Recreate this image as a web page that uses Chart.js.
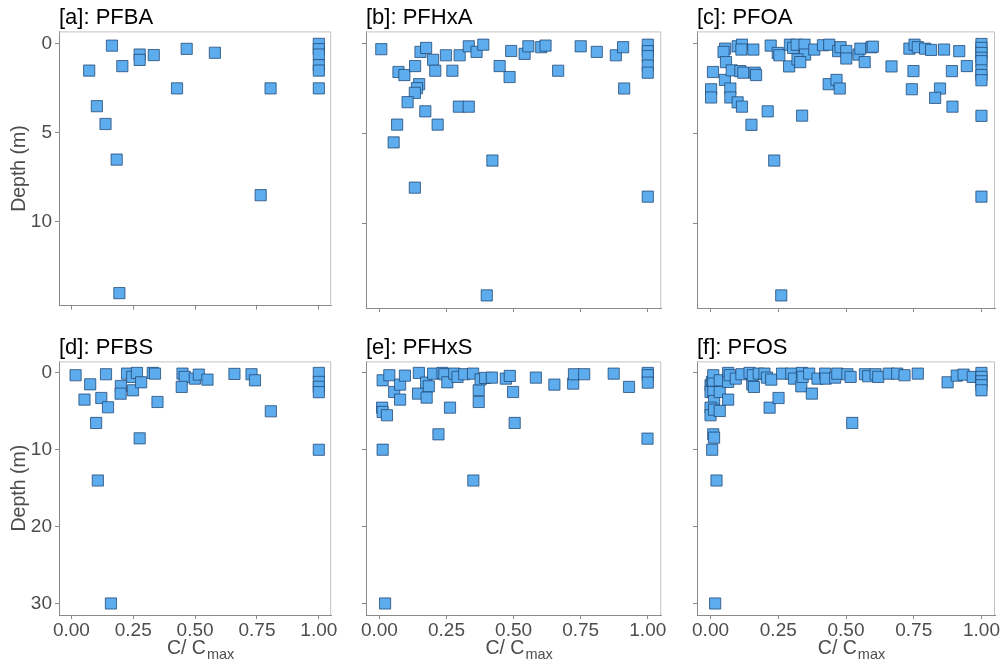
<!DOCTYPE html>
<html>
<head>
<meta charset="utf-8">
<script src="https://cdn.jsdelivr.net/npm/chart.js@4"></script>
<style>
  html, body { margin: 0; padding: 0; background: #ffffff; }
  body { width: 1004px; height: 662px; position: relative; overflow: hidden; }
  canvas { position: absolute; }
</style>
</head>
<body>
<canvas id="pa" width="340" height="320" style="left:0px;top:0px"></canvas>
<canvas id="pb" width="320" height="320" style="left:350px;top:0px"></canvas>
<canvas id="pc" width="324" height="320" style="left:680px;top:0px"></canvas>
<canvas id="pd" width="340" height="332" style="left:0px;top:330px"></canvas>
<canvas id="pe" width="320" height="332" style="left:350px;top:330px"></canvas>
<canvas id="pf" width="324" height="332" style="left:680px;top:330px"></canvas>
<script>
// ---- tick labels ----
const xTickValues = [0, 0.25, 0.5, 0.75, 1];
const yTicksTop = [0, 5, 10];
const yTicksBottom = [0, 10, 20, 30];

// ---- panel titles ----
const panelTitles = ['[a]: PFBA', '[b]: PFHxA', '[c]: PFOA', '[d]: PFBS', '[e]: PFHxS', '[f]: PFOS'];

// ---- [a] PFBA ----
const pfbaC = [0.164, 0.072, 0.206, 0.276, 0.276, 0.333, 0.466, 0.58, 0.427, 0.805, 0.103, 0.138, 0.183, 0.765, 0.194, 1, 1, 1, 1, 1, 1];
const pfbaDepth = [0.1, 1.5, 1.25, 0.6, 0.9, 0.63, 0.28, 0.5, 2.5, 2.5, 3.5, 4.5, 6.5, 8.5, 14, 0, 0.3, 0.6, 1.2, 1.5, 2.5];

// ---- [b] PFHxA ----
const pfhxaC = [0.007, 0.071, 0.093, 0.133, 0.153, 0.174, 0.2, 0.208, 0.148, 0.14, 0.132, 0.105, 0.171, 0.066, 0.217, 0.053, 0.132, 0.248, 0.272, 0.299, 0.333, 0.362, 0.387, 0.296, 0.333, 0.421, 0.448, 0.485, 0.491, 0.541, 0.555, 0.603, 0.619, 0.666, 0.75, 0.81, 0.881, 0.908, 0.912, 0.4, 1, 1, 1, 1, 1, 1];
const pfhxaDepth = [0.29, 1.56, 1.73, 1.23, 0.44, 0.22, 0.88, 1.49, 2.24, 2.46, 2.72, 3.24, 3.75, 4.49, 4.49, 5.48, 8.0, 0.63, 1.49, 0.63, 0.13, 0.44, 0.04, 3.49, 3.49, 6.49, 1.23, 1.84, 0.39, 0.55, 0.13, 0.18, 0.09, 1.49, 0.13, 0.44, 0.63, 0.18, 2.48, 14, 0.04, 0.4, 0.68, 1.2, 1.6, 8.5];

// ---- [c] PFOA ----
const pfoaC = [0.002, 0.002, 0.009, 0.054, 0.048, 0.057, 0.053, 0.073, 0.073, 0.078, 0.1, 0.116, 0.1, 0.116, 0.114, 0.11, 0.121, 0.158, 0.163, 0.168, 0.151, 0.222, 0.211, 0.235, 0.248, 0.254, 0.29, 0.293, 0.305, 0.318, 0.347, 0.349, 0.321, 0.331, 0.338, 0.383, 0.415, 0.438, 0.436, 0.465, 0.477, 0.471, 0.48, 0.501, 0.501, 0.546, 0.553, 0.569, 0.594, 0.599, 0.668, 0.734, 0.753, 0.765, 0.792, 0.814, 0.862, 0.918, 0.946, 0.749, 0.743, 0.847, 0.829, 0.891, 0.893, 0.261, 1, 1, 1, 1, 1, 1, 1, 1, 1, 1];
const pfoaDepth = [2.52, 2.98, 1.56, 0.26, 0.44, 1.01, 2.0, 2.48, 2.98, 1.47, 3.25, 3.49, 0.13, 0.04, 0.31, 1.51, 1.6, 0.31, 1.6, 1.73, 4.5, 0.09, 3.75, 6.49, 0.5, 0.63, 1.25, 0.04, 0.22, 0.04, 0.04, 0.59, 0.86, 1.01, 3.99, 0.31, 0.07, 0.04, 2.24, 2.0, 2.48, 0.4, 0.18, 0.39, 0.81, 0.59, 0.26, 1.01, 0.18, 0.15, 1.25, 0.26, 0.04, 0.18, 0.26, 0.33, 0.31, 0.4, 1.23, 1.51, 2.52, 2.48, 3.0, 1.51, 3.49, 14, 0, 0.22, 0.5, 0.77, 0.96, 1.47, 1.73, 2.02, 4.0, 8.5];

// ---- [d] PFBS ----
const pfbsC = [0.017, 0.076, 0.053, 0.14, 0.121, 0.148, 0.1, 0.107, 0.16, 0.2, 0.199, 0.225, 0.246, 0.249, 0.265, 0.282, 0.276, 0.329, 0.338, 0.348, 0.449, 0.458, 0.446, 0.499, 0.515, 0.55, 0.659, 0.728, 0.742, 0.806, 1, 1, 1, 1, 1];
const pfbsDepth = [0.3, 1.48, 3.47, 0.17, 3.26, 4.47, 6.51, 14, 30, 1.7, 2.7, 0.09, 0.52, 2.26, 0, 1.22, 8.51, 0, 0.09, 3.78, 0.09, 0.52, 1.82, 0.74, 0.22, 0.87, 0.13, 0.17, 0.96, 4.99, 0, 1.17, 1.8, 2.5, 10];

// ---- [e] PFHxS ----
const pfhxsC = [0.012, 0.037, 0.01, 0.012, 0.028, 0.012, 0.021, 0.055, 0.077, 0.077, 0.095, 0.147, 0.144, 0.174, 0.184, 0.176, 0.2, 0.22, 0.235, 0.242, 0.253, 0.263, 0.279, 0.291, 0.316, 0.349, 0.35, 0.37, 0.37, 0.377, 0.394, 0.419, 0.471, 0.486, 0.498, 0.504, 0.583, 0.652, 0.722, 0.725, 0.763, 0.873, 0.93, 0.999, 1, 1, 1];
const pfhxsDepth = [0.96, 0.3, 4.52, 5.08, 5.51, 9.99, 30, 2.48, 1.52, 3.47, 0.35, 0, 2.69, 1.26, 1.74, 3.21, 0.09, 7.99, 0, 0.17, 1.22, 4.52, 0.09, 0.52, 0.17, 0.09, 14, 2.26, 3.78, 0.83, 0.65, 0.61, 0.74, 0.39, 2.48, 6.51, 0.61, 1.52, 1.39, 0.17, 0.17, 0.09, 1.82, 8.55, 0, 0.3, 1.26];

// ---- [f] PFOS ----
const pfosC = [0, 0.005, 0.01, 0.01, 0, 0.01, 0.013, 0, 0, 0.013, 0.034, 0.034, 0.034, 0.01, 0.013, 0.006, 0.022, 0.017, 0.065, 0.065, 0.065, 0.071, 0.093, 0.114, 0.144, 0.154, 0.16, 0.156, 0.178, 0.199, 0.208, 0.224, 0.218, 0.251, 0.264, 0.298, 0.308, 0.337, 0.335, 0.34, 0.364, 0.374, 0.395, 0.423, 0.425, 0.46, 0.468, 0.505, 0.517, 0.523, 0.57, 0.582, 0.609, 0.619, 0.658, 0.689, 0.716, 0.765, 0.875, 0.909, 0.934, 0.968, 1, 1, 1, 1, 1];
const pfosDepth = [1.6, 1.17, 0.3, 1.39, 2.48, 2.48, 3.65, 4.52, 5.51, 4.78, 4.95, 2.48, 0.96, 7.99, 8.42, 9.99, 14, 30, 0, 1.17, 3.47, 0.3, 0.74, 0.17, 0, 1.48, 1.82, 0.3, 0.09, 0.09, 0.61, 0.87, 4.52, 3.26, 0.09, 0.09, 0.74, 0, 1.74, 0.52, 0.09, 2.69, 0.74, 0.09, 0.74, 0.61, 0.09, 0.17, 0.52, 6.51, 0.17, 0.43, 0.17, 0.52, 0.09, 0.09, 0.3, 0.09, 1.22, 0.35, 0.22, 0.52, 0, 0.52, 1.09, 1.6, 2.26];

const FONT = "'Liberation Sans', Arial, sans-serif";
const GREY_TXT = '#4d4d4d';
const AXIS_COL = '#8a8a8a';
const FRAME_COL = '#c2c2c2';

const framePlugin = {
  id: 'frame',
  beforeDatasetsDraw(chart) {
    const a = chart.chartArea, ctx = chart.ctx;
    ctx.save();
    ctx.strokeStyle = FRAME_COL;
    ctx.lineWidth = 1;
    ctx.beginPath();
    ctx.moveTo(a.left, a.top + 0.5);
    ctx.lineTo(a.right - 0.5, a.top + 0.5);
    ctx.lineTo(a.right - 0.5, a.bottom);
    ctx.stroke();
    ctx.restore();
  }
};

const xTitlePlugin = {
  id: 'xTitleSub',
  afterDraw(chart, args, opts) {
    if (!opts.show) return;
    const a = chart.chartArea, ctx = chart.ctx;
    ctx.save();
    ctx.fillStyle = GREY_TXT;
    ctx.textBaseline = 'alphabetic';
    ctx.textAlign = 'left';
    const main = 'C/ C', sub = 'max';
    ctx.font = '19.5px ' + FONT;
    const w1 = ctx.measureText(main).width;
    ctx.font = '14.5px ' + FONT;
    const w2 = ctx.measureText(sub).width;
    const cx = (a.left + a.right) / 2 + 5;
    const x0 = cx - (w1 + w2) / 2;
    ctx.font = '19.5px ' + FONT;
    ctx.fillText(main, x0, a.bottom + 39);
    ctx.font = '14.5px ' + FONT;
    ctx.fillText(sub, x0 + w1 + 1, a.bottom + 44);
    ctx.restore();
  }
};

function makePanel(id, title, xs, ys, cfg) {
  const pts = xs.map((x, i) => ({ x: x, y: ys[i] }));
  const yTicks = cfg.bottom ? yTicksBottom : yTicksTop;
  return new Chart(document.getElementById(id), {
    type: 'scatter',
    data: {
      datasets: [{
        data: pts,
        pointStyle: 'rect',
        pointRadius: 7.9,
        pointHoverRadius: 7.9,
        backgroundColor: '#5CACEE',
        borderColor: 'rgba(30,70,115,0.85)',
        borderWidth: 0.9
      }]
    },
    plugins: [framePlugin, xTitlePlugin],
    options: {
      responsive: false,
      animation: false,
      events: [],
      layout: { padding: { left: 0, right: cfg.padRight, top: 0, bottom: 0 } },
      plugins: {
        legend: { display: false },
        tooltip: { enabled: false },
        title: {
          display: true,
          text: title,
          align: 'start',
          fullSize: false,
          color: '#000000',
          font: { family: FONT, size: 22, weight: 'normal', lineHeight: 1.2 },
          padding: { top: 5, bottom: 0 }
        },
        xTitleSub: { show: cfg.bottom }
      },
      scales: {
        x: {
          type: 'linear',
          min: -0.05,
          max: 1.05,
          afterBuildTicks: s => { s.ticks = xTickValues.map(v => ({ value: v })); },
          afterFit: s => { s.height = cfg.bottom ? 47 : 12; },
          ticks: {
            display: cfg.bottom,
            autoSkip: false,
            maxRotation: 0,
            padding: 0,
            color: GREY_TXT,
            font: { family: FONT, size: 19 },
            callback: v => Number(v).toFixed(2)
          },
          grid: { drawOnChartArea: false, drawTicks: true, tickLength: 4, color: AXIS_COL, tickColor: AXIS_COL },
          border: { display: true, color: AXIS_COL, width: 1 },
          title: { display: false }
        },
        y: {
          type: 'linear',
          reverse: true,
          min: cfg.bottom ? -1.5 : -0.7,
          max: cfg.bottom ? 31.5 : 14.7,
          afterBuildTicks: s => { s.ticks = yTicks.map(v => ({ value: v })); },
          afterFit: s => { s.width = cfg.yWidth; },
          ticks: {
            display: cfg.left,
            padding: 3,
            color: GREY_TXT,
            font: { family: FONT, size: 19 },
            callback: v => String(v)
          },
          grid: { drawOnChartArea: false, drawTicks: true, tickLength: 4, color: AXIS_COL, tickColor: AXIS_COL },
          border: { display: true, color: AXIS_COL, width: 1 },
          title: {
            display: cfg.left,
            text: 'Depth (m)',
            color: GREY_TXT,
            font: { family: FONT, size: 19.5 },
            padding: { top: 8, bottom: 0 }
          }
        }
      }
    }
  });
}

makePanel('pa', panelTitles[0], pfbaC, pfbaDepth, { left: true, bottom: false, yWidth: 59, padRight: 5 });
makePanel('pb', panelTitles[1], pfhxaC, pfhxaDepth, { left: false, bottom: false, yWidth: 16, padRight: 4 });
makePanel('pc', panelTitles[2], pfoaC, pfoaDepth, { left: false, bottom: false, yWidth: 17, padRight: 9 });
makePanel('pd', panelTitles[3], pfbsC, pfbsDepth, { left: true, bottom: true, yWidth: 59, padRight: 5 });
makePanel('pe', panelTitles[4], pfhxsC, pfhxsDepth, { left: false, bottom: true, yWidth: 16, padRight: 4 });
makePanel('pf', panelTitles[5], pfosC, pfosDepth, { left: false, bottom: true, yWidth: 17, padRight: 9 });
</script>
</body>
</html>
